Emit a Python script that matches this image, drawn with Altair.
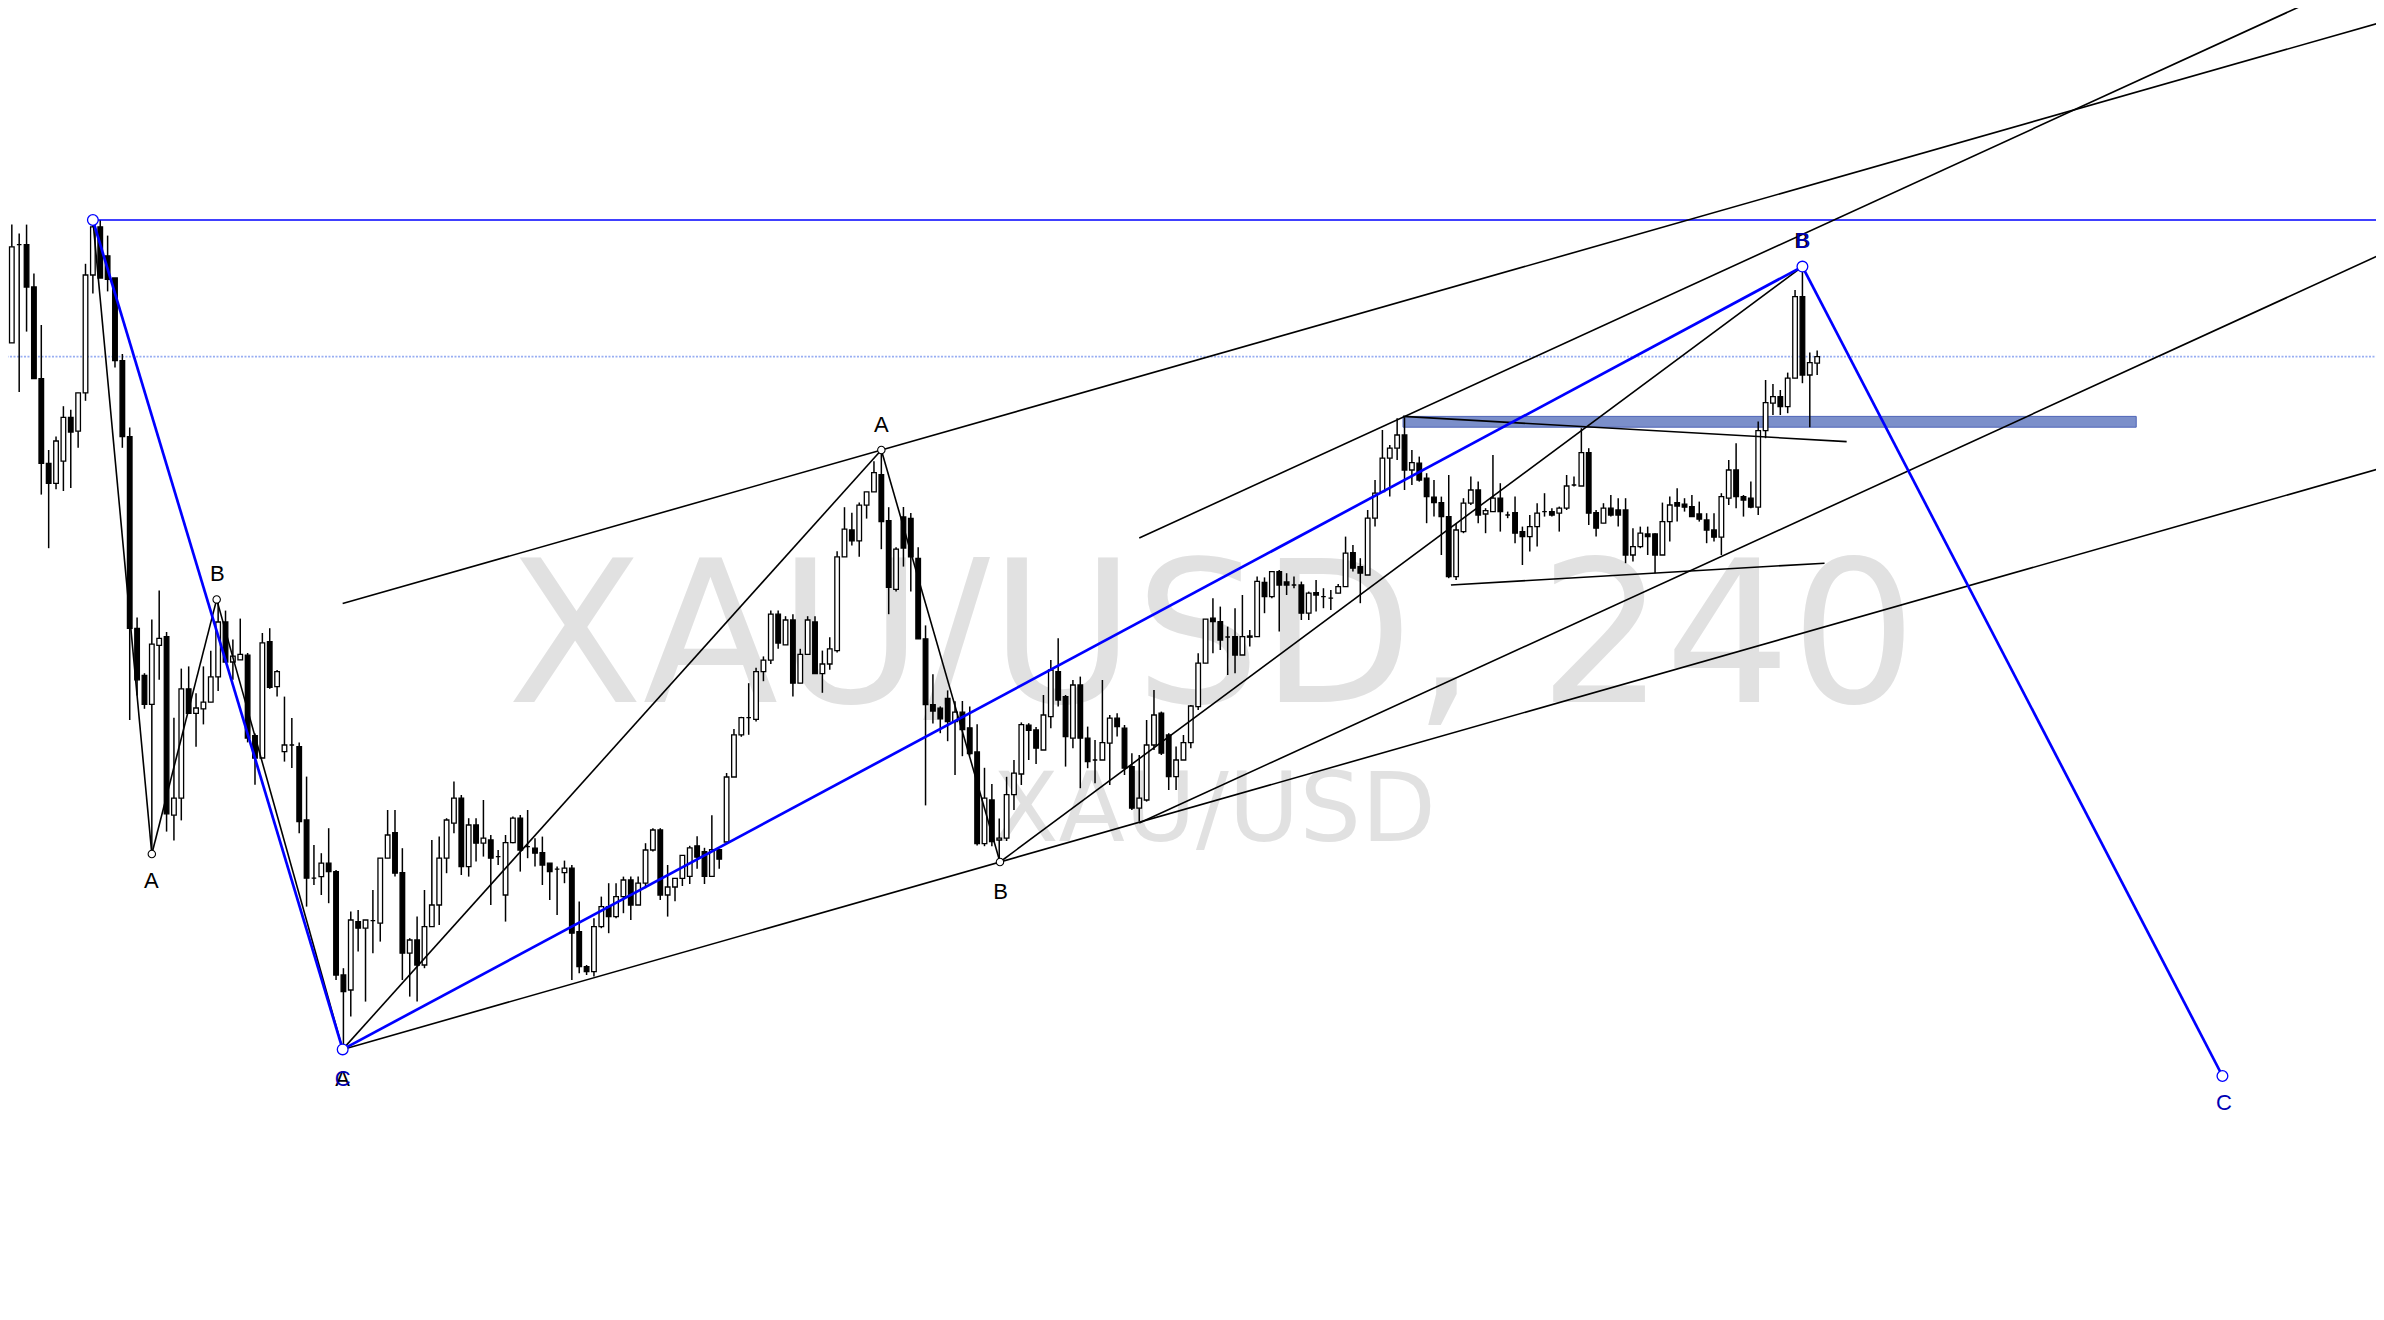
import altair as alt
import pandas as pd

# ---------------- candle data (XAU/USD, 4h) ----------------
opens = [
    2028.6, 2077.7, 2077.7, 2056.5, 2010.7, 1968.3, 1958.3, 1969.4, 1991.3, 1984.4,
    2003.6, 2062.5, 2086.6, 2072.1, 2061.0, 2019.7, 1981.7, 1885.8, 1862.3, 1847.8,
    1877.3, 1881.7, 1792.4, 1800.9, 1855.6, 1843.3, 1845.6, 1848.9, 1861.6, 1889.0,
    1869.0, 1870.1, 1872.4, 1832.2, 1821.0, 1879.2, 1856.7, 1824.2, 1827.5, 1826.7,
    1790.0, 1760.9, 1761.7, 1768.4, 1764.2, 1712.5, 1705.0, 1739.2, 1735.9, 1739.7,
    1738.4, 1770.9, 1783.7, 1763.7, 1723.4, 1730.0, 1717.5, 1736.7, 1747.5, 1770.9,
    1788.4, 1800.9, 1766.7, 1787.5, 1778.4, 1780.0, 1771.7, 1752.5, 1778.7, 1790.9,
    1776.7, 1775.9, 1773.7, 1768.4, 1765.4, 1763.7, 1765.9, 1734.2, 1716.7, 1714.2,
    1736.7, 1746.7, 1741.7, 1751.7, 1760.0, 1747.5, 1758.4, 1775.0, 1785.0, 1752.5,
    1756.5, 1760.8, 1761.8, 1777.1, 1774.2, 1761.8, 1775.2, 1779.0, 1811.5, 1832.6,
    1841.2, 1840.3, 1864.2, 1869.9, 1892.9, 1877.6, 1890.0, 1858.4, 1872.8, 1889.0,
    1863.2, 1868.0, 1874.7, 1921.6, 1935.0, 1929.6, 1947.4, 1954.1, 1962.7, 1939.7,
    1905.3, 1941.5, 1940.8, 1920.8, 1880.6, 1847.7, 1845.9, 1850.8, 1839.2, 1843.9,
    1836.1, 1824.0, 1778.2, 1800.0, 1780.0, 1780.9, 1802.7, 1813.0, 1837.4, 1835.0,
    1825.0, 1841.7, 1864.2, 1851.7, 1830.9, 1857.5, 1830.9, 1820.0, 1820.0, 1828.4,
    1840.9, 1835.9, 1816.7, 1795.9, 1800.0, 1827.5, 1843.4, 1832.5, 1811.7, 1820.0,
    1828.7, 1846.7, 1868.4, 1890.9, 1889.2, 1881.5, 1881.7, 1872.5, 1881.4, 1881.7,
    1908.8, 1901.7, 1914.2, 1909.0, 1907.5, 1907.5, 1893.4, 1903.7, 1901.7, 1900.9,
    1903.4, 1906.7, 1923.7, 1916.7, 1912.5, 1940.9, 1954.2, 1970.9, 1975.9, 1982.5,
    1965.0, 1968.4, 1960.9, 1951.4, 1948.7, 1941.7, 1911.7, 1934.2, 1948.4, 1955.0,
    1943.0, 1944.2, 1950.9, 1942.5, 1943.7, 1934.2, 1931.7, 1936.7, 1944.2, 1944.2,
    1943.4, 1945.9, 1957.5, 1957.0, 1973.7, 1943.7, 1938.4, 1945.9, 1945.0, 1945.0,
    1922.5, 1926.7, 1933.0, 1933.0, 1922.5, 1939.2, 1948.7, 1947.9, 1946.7, 1943.0,
    1940.0, 1935.0, 1931.4, 1950.9, 1965.0, 1951.7, 1950.9, 1946.4, 1984.7, 1998.4,
    2001.7, 1996.7, 2010.9, 2051.7, 2012.5, 2018.4,
]
highs = [
    2087.7, 2083.3, 2087.7, 2063.2, 2037.5, 1975.0, 1981.7, 1996.9, 1995.1, 2003.6,
    2068.1, 2090.0, 2090.0, 2082.2, 2061.0, 2023.0, 1986.2, 1891.3, 1863.4, 1890.2,
    1904.7, 1884.0, 1841.1, 1865.7, 1866.8, 1853.4, 1866.8, 1874.6, 1900.3, 1894.7,
    1880.2, 1890.7, 1873.5, 1833.3, 1883.5, 1885.9, 1865.0, 1851.7, 1841.0, 1828.7,
    1811.7, 1777.5, 1773.4, 1785.9, 1765.0, 1715.9, 1744.2, 1745.0, 1740.0, 1755.0,
    1770.9, 1795.0, 1795.0, 1775.9, 1730.9, 1741.7, 1755.0, 1780.0, 1781.7, 1790.9,
    1809.2, 1802.5, 1790.9, 1790.9, 1800.0, 1782.5, 1775.0, 1782.5, 1791.7, 1792.5,
    1795.0, 1780.9, 1781.7, 1768.4, 1766.7, 1769.7, 1767.5, 1749.2, 1717.5, 1740.9,
    1751.7, 1758.4, 1758.4, 1761.7, 1761.7, 1761.7, 1778.4, 1785.9, 1785.9, 1767.5,
    1760.8, 1772.3, 1777.1, 1781.9, 1776.1, 1792.4, 1775.2, 1813.5, 1835.5, 1841.6,
    1858.4, 1866.1, 1871.8, 1894.8, 1894.8, 1891.9, 1892.9, 1875.6, 1891.9, 1891.9,
    1874.7, 1881.4, 1924.4, 1946.4, 1943.6, 1948.7, 1954.1, 1969.4, 1975.1, 1946.4,
    1926.4, 1946.5, 1943.5, 1926.4, 1887.3, 1862.9, 1846.8, 1854.8, 1849.4, 1849.5,
    1846.8, 1837.9, 1816.1, 1808.0, 1790.7, 1811.6, 1820.0, 1838.8, 1838.4, 1836.5,
    1852.5, 1870.0, 1880.9, 1852.5, 1860.0, 1861.7, 1836.7, 1830.0, 1860.0, 1842.5,
    1843.4, 1837.5, 1823.4, 1822.5, 1840.0, 1855.0, 1844.2, 1833.4, 1826.7, 1832.5,
    1847.5, 1873.4, 1890.4, 1900.9, 1896.7, 1886.7, 1895.9, 1902.5, 1885.0, 1911.7,
    1911.3, 1914.2, 1915.0, 1913.4, 1911.7, 1909.2, 1904.2, 1910.0, 1905.9, 1905.0,
    1908.0, 1931.7, 1927.5, 1920.9, 1945.0, 1960.0, 1985.0, 1977.5, 1990.9, 1991.4,
    1975.0, 1971.7, 1963.4, 1960.0, 1951.7, 1962.5, 1938.4, 1950.9, 1961.7, 1959.2,
    1945.9, 1972.5, 1958.4, 1944.2, 1951.7, 1936.7, 1942.5, 1948.4, 1953.4, 1945.9,
    1946.7, 1962.5, 1961.7, 1985.9, 1975.9, 1945.0, 1948.4, 1952.5, 1950.9, 1950.9,
    1935.9, 1936.7, 1936.7, 1933.4, 1948.7, 1951.7, 1955.9, 1950.9, 1952.5, 1949.2,
    1943.4, 1943.4, 1953.4, 1970.0, 1978.4, 1952.5, 1959.2, 1989.2, 2010.0, 2008.0,
    2005.0, 2013.7, 2055.0, 2066.7, 2023.7, 2024.7,
]
lows = [
    2028.6, 2004.0, 2034.2, 2010.7, 1952.7, 1925.9, 1955.4, 1954.5, 1956.0, 1976.1,
    1999.6, 2053.2, 2061.0, 2054.3, 2016.3, 1976.1, 1840.0, 1852.3, 1845.6, 1773.0,
    1860.1, 1784.2, 1779.7, 1789.8, 1843.3, 1826.6, 1837.8, 1848.9, 1854.5, 1869.0,
    1860.1, 1870.1, 1828.8, 1807.6, 1821.0, 1855.6, 1851.7, 1819.2, 1816.0, 1783.4,
    1746.7, 1757.5, 1752.5, 1748.4, 1710.0, 1675.0, 1691.7, 1724.2, 1699.2, 1723.4,
    1729.2, 1770.9, 1761.7, 1710.0, 1701.7, 1699.2, 1715.9, 1736.7, 1737.5, 1763.4,
    1783.4, 1762.5, 1761.7, 1769.2, 1771.7, 1747.5, 1767.5, 1739.2, 1778.4, 1764.2,
    1770.9, 1766.7, 1757.5, 1750.0, 1742.5, 1758.4, 1710.0, 1713.4, 1712.5, 1711.7,
    1735.9, 1733.4, 1740.9, 1743.4, 1740.0, 1747.5, 1755.9, 1774.2, 1750.0, 1741.7,
    1749.4, 1757.0, 1758.0, 1765.6, 1758.0, 1761.8, 1765.6, 1779.0, 1811.5, 1831.6,
    1832.6, 1839.3, 1859.4, 1868.0, 1875.6, 1877.6, 1851.7, 1858.4, 1872.8, 1863.2,
    1853.6, 1865.1, 1873.7, 1921.6, 1927.3, 1921.6, 1940.7, 1954.1, 1925.4, 1892.9,
    1904.3, 1916.7, 1904.3, 1880.5, 1797.3, 1838.3, 1833.4, 1829.4, 1812.5, 1821.9,
    1822.3, 1777.3, 1776.9, 1776.9, 1768.0, 1779.5, 1795.0, 1807.5, 1820.0, 1818.0,
    1825.0, 1835.9, 1846.7, 1816.7, 1825.9, 1805.9, 1815.9, 1808.4, 1820.0, 1807.5,
    1831.7, 1812.5, 1795.0, 1789.2, 1799.2, 1825.0, 1822.5, 1805.0, 1805.0, 1820.0,
    1825.9, 1845.0, 1868.4, 1873.4, 1875.0, 1862.5, 1863.4, 1872.5, 1876.7, 1881.7,
    1893.4, 1900.9, 1884.2, 1902.5, 1905.9, 1890.0, 1890.0, 1894.2, 1895.9, 1895.0,
    1903.4, 1906.7, 1914.2, 1898.4, 1912.5, 1936.7, 1954.2, 1951.7, 1970.0, 1955.0,
    1957.5, 1959.2, 1938.4, 1941.7, 1922.5, 1910.9, 1910.0, 1933.4, 1947.5, 1938.4,
    1933.4, 1944.2, 1934.2, 1940.9, 1928.4, 1917.5, 1924.2, 1926.7, 1941.7, 1941.7,
    1934.2, 1945.0, 1956.7, 1957.0, 1937.5, 1931.7, 1938.4, 1941.7, 1936.7, 1918.4,
    1919.2, 1925.9, 1922.5, 1913.4, 1922.5, 1929.2, 1939.2, 1944.2, 1941.7, 1939.2,
    1928.4, 1929.2, 1922.5, 1947.5, 1945.9, 1941.7, 1945.9, 1942.5, 1980.9, 1992.5,
    1992.5, 1993.4, 2010.9, 2008.4, 1986.4, 2012.5,
]
closes = [
    2076.6, 2077.7, 2056.5, 2010.7, 1968.3, 1958.3, 1979.5, 1991.3, 1984.0, 2003.6,
    2062.5, 2086.6, 2061.0, 2060.3, 2019.7, 1981.7, 1885.8, 1860.1, 1847.8, 1877.9,
    1880.8, 1793.1, 1800.9, 1855.6, 1843.3, 1846.0, 1848.9, 1861.6, 1889.0, 1869.0,
    1871.9, 1872.8, 1831.0, 1821.0, 1878.6, 1856.3, 1864.2, 1827.5, 1827.5, 1789.2,
    1760.9, 1760.9, 1768.4, 1764.2, 1712.5, 1704.2, 1740.0, 1735.9, 1740.0, 1739.7,
    1770.9, 1782.5, 1763.4, 1723.4, 1730.0, 1717.5, 1736.7, 1747.5, 1770.9, 1790.0,
    1800.9, 1766.7, 1787.5, 1778.4, 1780.9, 1770.9, 1771.7, 1778.7, 1790.9, 1775.0,
    1776.7, 1773.4, 1767.5, 1764.2, 1765.4, 1765.9, 1733.4, 1716.7, 1714.2, 1736.7,
    1746.7, 1741.7, 1751.7, 1760.0, 1747.5, 1758.4, 1775.0, 1785.0, 1752.5, 1756.5,
    1760.8, 1772.3, 1776.1, 1771.4, 1761.8, 1775.2, 1770.4, 1811.5, 1832.6, 1841.2,
    1841.2, 1864.2, 1869.9, 1892.9, 1878.5, 1890.0, 1858.4, 1872.8, 1890.0, 1863.2,
    1868.0, 1875.6, 1921.6, 1935.4, 1929.6, 1947.4, 1954.1, 1963.7, 1939.2, 1906.3,
    1925.4, 1926.0, 1921.6, 1880.6, 1847.7, 1844.5, 1840.6, 1839.2, 1843.9, 1835.2,
    1823.2, 1778.2, 1800.9, 1779.2, 1780.9, 1802.7, 1813.4, 1837.7, 1834.8, 1825.9,
    1842.5, 1865.0, 1850.0, 1831.7, 1857.5, 1830.9, 1819.2, 1820.0, 1828.7, 1840.9,
    1836.7, 1815.9, 1795.9, 1800.9, 1827.5, 1842.5, 1823.4, 1811.7, 1820.0, 1828.7,
    1847.0, 1868.4, 1890.4, 1889.2, 1880.0, 1881.5, 1872.5, 1881.7, 1882.0, 1909.3,
    1901.7, 1914.2, 1907.5, 1907.5, 1907.5, 1893.4, 1903.4, 1902.5, 1901.7, 1900.9,
    1906.7, 1923.4, 1915.9, 1913.4, 1940.9, 1953.4, 1970.9, 1975.9, 1982.5, 1965.0,
    1968.7, 1960.0, 1951.7, 1948.7, 1941.7, 1911.7, 1935.0, 1948.4, 1955.0, 1942.5,
    1944.7, 1950.9, 1944.2, 1942.5, 1933.4, 1931.7, 1936.7, 1943.4, 1944.2, 1942.5,
    1945.9, 1957.0, 1957.5, 1973.7, 1943.4, 1935.9, 1945.9, 1942.5, 1942.5, 1922.5,
    1926.7, 1933.4, 1931.7, 1922.5, 1939.2, 1947.5, 1947.0, 1946.4, 1941.7, 1940.4,
    1935.0, 1931.4, 1951.7, 1965.0, 1951.7, 1950.0, 1946.4, 1984.7, 1998.7, 2001.7,
    1996.7, 2010.9, 2051.7, 2012.5, 2018.7, 2021.7,
]

# ---------------- drawing tools (bar index, price) ----------------
black_x1 = [11.0, 19.0, 27.8, 44.9, 118.0, 134.1, 44.9, 44.9, 153.0, 153.0, 188.8, 195.3]
black_y1 = [2090.0, 1773.0, 1900.3, 1675.3, 1975.0, 1769.0, 1898.2, 1675.3, 1931.0, 1788.5, 1991.8, 1907.5]
black_x2 = [19.0, 27.8, 44.9, 118.0, 134.1, 243.0, 330.0, 330.0, 330.0, 330.0, 249.0, 246.0]
black_y2 = [1773.0, 1900.3, 1675.3, 1975.0, 1769.0, 2066.7, 2197.7, 1974.8, 2229.6, 2087.1, 1979.2, 1918.4]

blue_x1 = [11.0, 44.9, 243.0]
blue_y1 = [2090.0, 1675.3, 2066.7]
blue_x2 = [44.9, 243.0, 300.0]
blue_y2 = [1675.3, 2066.7, 1662.0]

level_price = 2090.0          # blue horizontal from the swing high
level_start = 11.0
dotted_price = 2021.7         # last-price dotted line
zone_x = [188.8, 288.3]
zone_y = [1986.4, 1991.8]

blue_pts_x = [11.0, 44.9, 243.0, 300.0]
blue_pts_y = [2090.0, 1675.3, 2066.7, 1662.0]
black_pts_x = [19.0, 27.8, 118.0, 134.1]
black_pts_y = [1773.0, 1900.3, 1975.0, 1769.0]

black_lab_text = ["A", "B", "A", "B", "A", "B"]
black_lab_x = [18.95, 27.9, 118.0, 134.2, 44.9, 242.9]
black_lab_y = [1756.0, 1909.5, 1984.0, 1750.5, 1657.0, 2076.0]
blue_lab_text = ["C", "B", "C"]
blue_lab_x = [44.9, 243.1, 300.2]
blue_lab_y = [1657.0, 2076.0, 1645.0]

W, H = 2368, 1304
X_DOMAIN = [0.16, 0.16 + W / 7.4]
Y_DOMAIN = [2196.0 - H / 2.0, 2196.0]

xs = alt.Scale(domain=X_DOMAIN, nice=False, zero=False)
ys = alt.Scale(domain=Y_DOMAIN, nice=False, zero=False)


def X(f):
    return alt.X(f, type="quantitative", scale=xs, axis=None)


def Y(f):
    return alt.Y(f, type="quantitative", scale=ys, axis=None)


n = len(opens)
candles = pd.DataFrame({
    "bar": list(range(n)), "open": opens, "high": highs, "low": lows, "close": closes,
})
candles["dir"] = ["up" if c >= o else "down" for o, c in zip(opens, closes)]

black_df = pd.DataFrame({"x": black_x1, "y": black_y1, "x2": black_x2, "y2": black_y2})
blue_df = pd.DataFrame({"x": blue_x1, "y": blue_y1, "x2": blue_x2, "y2": blue_y2})
level_df = pd.DataFrame({"x": [level_start], "x2": [330.0], "y": [level_price]})
dotted_df = pd.DataFrame({"x": [-5.0], "x2": [330.0], "y": [dotted_price]})
zone_df = pd.DataFrame({"x": [zone_x[0]], "x2": [zone_x[1]], "y": [zone_y[0]], "y2": [zone_y[1]]})
bpts = pd.DataFrame({"x": blue_pts_x, "y": blue_pts_y})
kpts = pd.DataFrame({"x": black_pts_x, "y": black_pts_y})
klab = pd.DataFrame({"x": black_lab_x, "y": black_lab_y, "t": black_lab_text})
blab = pd.DataFrame({"x": blue_lab_x, "y": blue_lab_y, "t": blue_lab_text})
one = pd.DataFrame({"a": [0]})

BLUE = "#0000ff"

wm_big = alt.Chart(one).mark_text(
    text="XAU/USD, 240", font="DejaVu Sans", fontSize=198, color="#e1e1e1",
    align="center", baseline="alphabetic",
).encode(x=alt.value(1204), y=alt.value(694))
wm_small = alt.Chart(one).mark_text(
    text="XAU/USD", font="DejaVu Sans", fontSize=97, color="#e1e1e1",
    align="center", baseline="alphabetic",
).encode(x=alt.value(1206), y=alt.value(833))

dotted = alt.Chart(dotted_df).mark_rule(
    color="#98aef2", strokeWidth=1.6, strokeDash=[2, 1.5], clip=True
).encode(x=X("x"), x2="x2", y=Y("y"))

zone = alt.Chart(zone_df).mark_rect(
    fill="#7b8fca", stroke="#4e64b8", strokeWidth=1
).encode(x=X("x"), x2="x2", y=Y("y"), y2="y2")

wicks = alt.Chart(candles).mark_rule(color="black", strokeWidth=1.5, clip=True).encode(
    x=X("bar"), y=Y("low"), y2="high"
)
bodies = alt.Chart(candles).mark_bar(
    width=4.6, stroke="black", strokeWidth=1.3, clip=True
).encode(
    x=X("bar"), y=Y("open"), y2="close",
    fill=alt.Fill("dir:N", scale=alt.Scale(domain=["up", "down"], range=["white", "black"]), legend=None),
)

level = alt.Chart(level_df).mark_rule(color=BLUE, strokeWidth=1.5, clip=True).encode(
    x=X("x"), x2="x2", y=Y("y")
)
black_lines = alt.Chart(black_df).mark_rule(color="black", strokeWidth=1.6, clip=True).encode(
    x=X("x"), x2="x2", y=Y("y"), y2="y2"
)
blue_lines = alt.Chart(blue_df).mark_rule(color=BLUE, strokeWidth=2.7, clip=True).encode(
    x=X("x"), x2="x2", y=Y("y"), y2="y2"
)

kcircles = alt.Chart(kpts).mark_point(
    shape="circle", filled=True, fill="white", stroke="black", strokeWidth=1.1, size=55, opacity=1
).encode(x=X("x"), y=Y("y"))
bcircles = alt.Chart(bpts).mark_point(
    shape="circle", filled=True, fill="white", stroke=BLUE, strokeWidth=1.3, size=115, opacity=1
).encode(x=X("x"), y=Y("y"))

klabels = alt.Chart(klab).mark_text(
    font="Liberation Sans", fontSize=22, color="black", align="center", baseline="alphabetic"
).encode(x=X("x"), y=Y("y"), text="t:N")
blabels = alt.Chart(blab).mark_text(
    font="Liberation Sans", fontSize=22, color="#0000b4", align="center", baseline="alphabetic"
).encode(x=X("x"), y=Y("y"), text="t:N")

chart = alt.layer(
    wm_big, wm_small, dotted, zone, wicks, bodies, level,
    black_lines, blue_lines, kcircles, bcircles, klabels, blabels,
).properties(
    width=W, height=H, autosize=alt.AutoSizeParams(type="none"), padding=0,
    background="white",
).configure_view(stroke=None)

chart.save("out.html", embed_options={"renderer": "svg", "actions": False})
